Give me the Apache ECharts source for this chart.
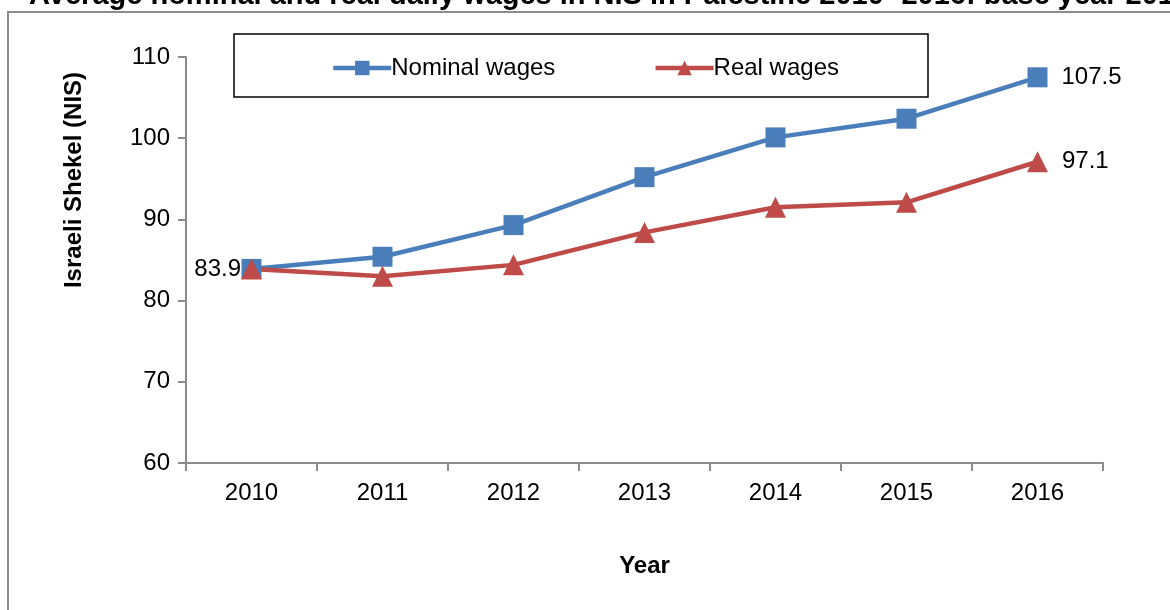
<!DOCTYPE html>
<html>
<head>
<meta charset="utf-8">
<script src="https://cdn.jsdelivr.net/npm/echarts@6/dist/echarts.min.js"></script>
<style>
  html, body { margin: 0; padding: 0; background: #fff; }
  #chart { width: 1170px; height: 610px; }
</style>
</head>
<body>
<div id="chart"></div>
<script>
  // data
  var years = ['2010', '2011', '2012', '2013', '2014', '2015', '2016'];
  var nominalWages = [83.9, 85.4, 89.3, 95.2, 100.1, 102.4, 107.5];
  var realWages = [83.9, 83.0, 84.4, 88.4, 91.5, 92.1, 97.1];

  var font = 'Liberation Sans, Arial, sans-serif';

  // only first / last points carry a value label
  function withLabels(arr, showFirst) {
    return arr.map(function (v, i) {
      if (i === arr.length - 1) {
        return { value: v, label: { show: true, position: 'right', distance: 14 } };
      }
      if (i === 0 && showFirst) {
        return { value: v, label: { show: true, position: 'left', distance: 0 } };
      }
      return v;
    });
  }

  var chart = echarts.init(document.getElementById('chart'));
  var option = {
    animation: false,
    backgroundColor: '#fff',
    title: {
      text: 'Average nominal and real daily wages in NIS in Palestine 2010- 2016: base year 2010',
      left: 24,
      top: -24,
      textStyle: { fontFamily: font, fontSize: 29, fontWeight: 'bold', color: '#000' }
    },
    graphic: [
      { type: 'polyline', shape: { points: [[8, 612], [8, 12], [1172, 12]] },
        style: { stroke: '#8c8c8c', lineWidth: 2, fill: null } },
      { type: 'rect', shape: { x: 234, y: 34, width: 694, height: 63 },
        style: { stroke: '#000', lineWidth: 1.5, fill: null } },
      { type: 'text', x: 74, y: 180, rotation: Math.PI / 2,
        style: { text: 'Israeli Shekel (NIS)', fontFamily: font, fontSize: 24, fontWeight: 'bold',
                 fill: '#000', align: 'center', verticalAlign: 'middle' } }
    ],
    legend: {
      left: 331,
      top: 56,
      padding: 0,
      itemWidth: 58,
      itemHeight: 18,
      itemGap: 98,
      lineStyle: { width: 4.5 },
      textStyle: { fontFamily: font, fontSize: 24, color: '#000', padding: [0, 0, 0, -5] },
      data: ['Nominal wages', 'Real wages']
    },
    grid: { left: 186, top: 57, right: 67, bottom: 147 },
    xAxis: {
      type: 'category',
      data: years,
      boundaryGap: true,
      name: 'Year',
      nameLocation: 'middle',
      nameGap: 91,
      nameTextStyle: { fontFamily: font, fontSize: 24, fontWeight: 'bold', color: '#000' },
      axisLine: { lineStyle: { color: '#8c8c8c', width: 2 } },
      axisTick: { show: true, length: 8, lineStyle: { color: '#8c8c8c', width: 2 } },
      axisLabel: { fontFamily: font, fontSize: 24, color: '#000', margin: 18 }
    },
    yAxis: {
      type: 'value',
      min: 60,
      max: 110,
      interval: 10,
      axisLine: { show: true, lineStyle: { color: '#8c8c8c', width: 2 } },
      axisTick: { show: true, length: 8, lineStyle: { color: '#8c8c8c', width: 2 } },
      axisLabel: { fontFamily: font, fontSize: 24, color: '#000', margin: 16 },
      splitLine: { show: false }
    },
    series: [
      {
        name: 'Nominal wages',
        type: 'line',
        data: withLabels(nominalWages, false),
        symbol: 'rect',
        symbolSize: 20,
        lineStyle: { color: '#4a7ebb', width: 4.5 },
        itemStyle: { color: '#4a7ebb' },
        label: { fontFamily: font, fontSize: 24, color: '#000' }
      },
      {
        name: 'Real wages',
        type: 'line',
        data: withLabels(realWages, true),
        symbol: 'triangle',
        symbolSize: 21,
        lineStyle: { color: '#be4b48', width: 4.5 },
        itemStyle: { color: '#be4b48' },
        label: { fontFamily: font, fontSize: 24, color: '#000' }
      }
    ]
  };
  chart.setOption(option);
</script>
</body>
</html>
